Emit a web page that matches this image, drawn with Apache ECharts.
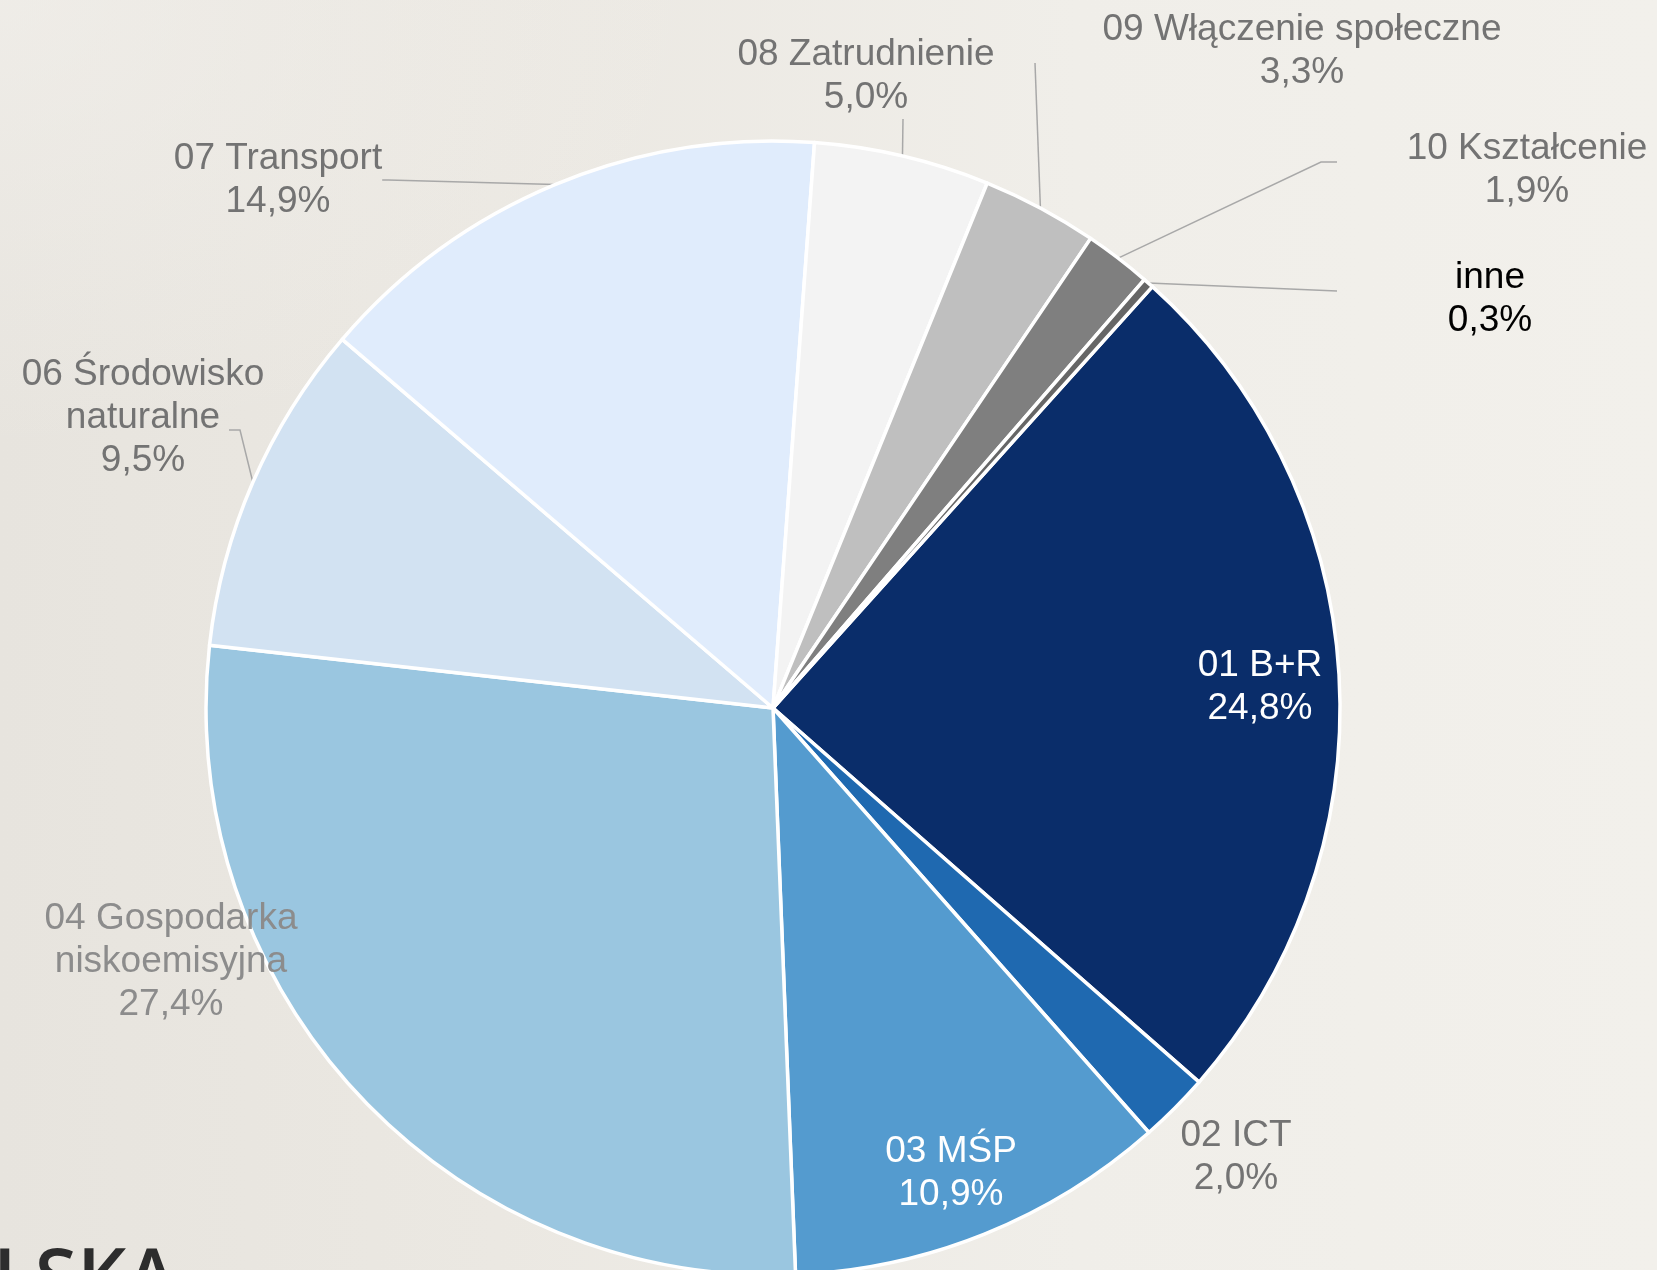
<!DOCTYPE html>
<html>
<head>
<meta charset="utf-8">
<script src="https://cdn.jsdelivr.net/npm/echarts@6/dist/echarts.min.js"></script>
<style>
  html, body { margin: 0; padding: 0; }
  body {
    width: 1657px; height: 1270px; overflow: hidden;
    background:
      radial-gradient(ellipse 700px 450px at 0% 0%, rgba(245,243,239,0.55), rgba(245,243,239,0) 100%),
      linear-gradient(90deg, #e7e4de 0%, #ebe8e2 30%, #f0eee9 65%, #f2f0eb 100%);
  }
  #chart { width: 1657px; height: 1270px; }
</style>
</head>
<body>
<div id="chart"></div>
<script>
// kategorie i udziały (%)
const categories = [
  '01 B+R',
  '02 ICT',
  '03 MŚP',
  '04 Gospodarka\nniskoemisyjna',
  '06 Środowisko\nnaturalne',
  '07 Transport',
  '08 Zatrudnienie',
  '09 Włączenie społeczne',
  '10 Kształcenie',
  'inne'
];
const shares = [24.8, 2.0, 10.9, 27.4, 9.5, 14.9, 5.0, 3.3, 1.9, 0.3];

const colors = ['#0a2d6a', '#1f69b0', '#549bcf', '#9ac6e0', '#d2e2f2',
                '#e0ecfc', '#f3f3f3', '#bfbfbf', '#7f7f7f', '#666666'];

// where each label sits (layout only)
const labelSpots = [
  [1260, 687], [1236, 1157], [951, 1173], [171, 962], [143, 418],
  [278, 180], [866, 76], [1302, 51], [1527, 170], [1490, 299]
];
// label-side end of leader lines (bend, end); null = let echarts route it
const leaderEnds = [
  null, null, null, null,
  [[240, 430], [229, 430]],
  null,
  [[903, 119], [903, 119]],
  [[1035, 63], [1035, 63]],
  [[1321, 162], [1337, 162]],
  [[1337, 291], [1337, 291]]
];
const insideIdx = [0, 2];
const noLineIdx = [0, 1, 2, 3];

const chart = echarts.init(document.getElementById('chart'));

const pieData = categories.map((name, i) => {
  const item = {
    name: name,
    value: shares[i],
    itemStyle: { color: colors[i] }
  };
  if (insideIdx.includes(i)) {
    item.label = { position: 'inside', color: '#ffffff' };
  } else if (i === 3) {
    item.label = { color: '#8c8c8c' };
  } else if (i === 9) {
    item.label = { color: '#000000' };
  }
  if (noLineIdx.includes(i)) {
    item.labelLine = { show: false };
  }
  return item;
});

const option = {
  backgroundColor: 'transparent',
  animation: false,
  graphic: [
    {
      type: 'text',
      left: -7,
      top: 1244,
      style: {
        text: 'LSKA',
        fill: '#2d2d2d',
        font: '600 77px "Open Sans"'
      }
    }
  ],
  series: [
    {
      type: 'pie',
      center: [773, 708],
      radius: [0, 567],
      startAngle: 48,
      clockwise: true,
      avoidLabelOverlap: false,
      itemStyle: {
        borderColor: '#ffffff',
        borderWidth: 3.5
      },
      label: {
        show: true,
        position: 'outside',
        color: '#737373',
        fontFamily: 'Liberation Sans',
        fontSize: 37,
        lineHeight: 43,
        align: 'center',
        formatter: (p) => p.name + '\n' + p.value.toFixed(1).replace('.', ',') + '%'
      },
      labelLine: {
        show: true,
        length: 10,
        length2: 6,
        smooth: false,
        lineStyle: { color: '#a8a8a8', width: 1.5 }
      },
      labelLayout: (p) => {
        const s = labelSpots[p.dataIndex];
        const out = {
          x: s[0],
          y: s[1],
          align: 'center',
          verticalAlign: 'middle',
          hideOverlap: false
        };
        const ends = leaderEnds[p.dataIndex];
        if (ends && p.labelLinePoints) {
          out.labelLinePoints = [p.labelLinePoints[0], ends[0], ends[1]];
        }
        return out;
      },
      emphasis: { disabled: true },
      data: pieData
    }
  ]
};

chart.setOption(option);
window.addEventListener('resize', () => chart.resize());
</script>
</body>
</html>
